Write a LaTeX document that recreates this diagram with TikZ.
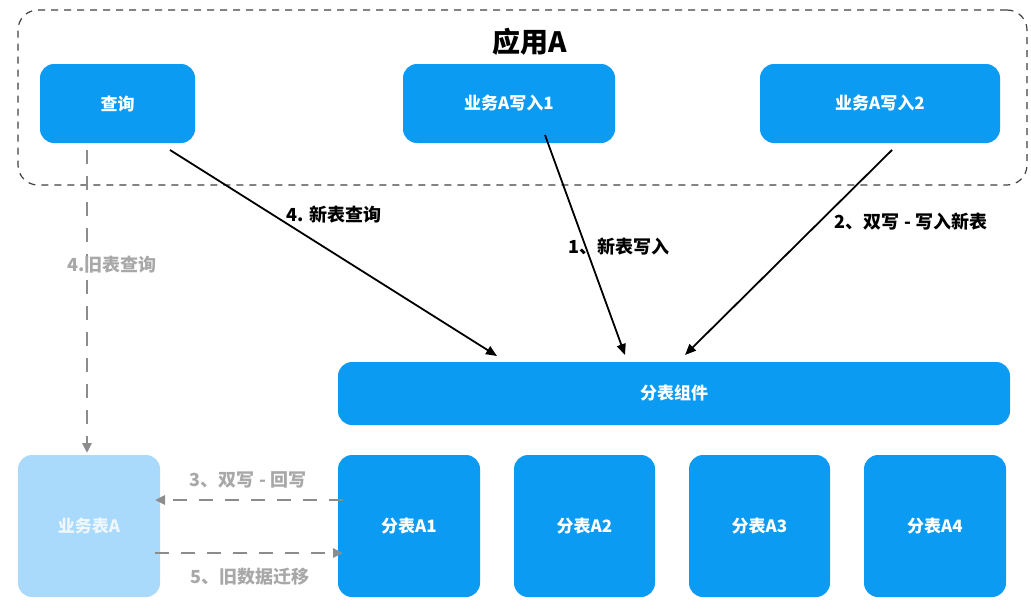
\documentclass[tikz,border=0pt]{standalone}
\usepackage{fontspec}
\setmainfont{Noto Sans CJK SC}
\usetikzlibrary{arrows.meta}
\definecolor{bblue}{HTML}{0C9BF3}
\definecolor{fblue}{HTML}{A9D9FB}
\definecolor{lgray}{HTML}{8C8C8C}
\definecolor{tgray}{HTML}{A8A8A8}
\tikzset{
  box/.style={draw=none, fill=bblue, rounded corners=14pt, text=white, font=\bfseries\fontsize{17}{19}\selectfont, inner sep=0pt},
  fadebox/.style={draw=none, fill=fblue, rounded corners=14pt, text=white!80!fblue, font=\bfseries\fontsize{17}{19}\selectfont, inner sep=0pt},
  solidarrow/.style={draw=black, line width=1.8pt, -{Triangle[length=11pt,width=9pt]}},
  grayarrow/.style={draw=lgray, line width=2.6pt, dash pattern=on 14pt off 12pt, -{Triangle[length=10pt,width=9pt]}},
  blabel/.style={font=\bfseries\fontsize{18}{20}\selectfont, text=black, inner sep=1pt},
  glabel/.style={font=\bfseries\fontsize{18}{20}\selectfont, text=tgray, inner sep=1pt},
}
\begin{document}
\begin{tikzpicture}[x=1pt,y=-1pt]
\useasboundingbox (0,0) rectangle (1031,613);
% container
\node[draw=black!75, line width=1.2pt, dash pattern=on 7pt off 6pt, rounded corners=20pt, minimum width=1009pt, minimum height=175pt, inner sep=0pt] (app) at (522.5,97.5) {};
\node[font=\bfseries\fontsize{28}{30}\selectfont] (title) at (530,42) {应用A};
% top nodes
\node[box, minimum width=155pt, minimum height=79pt] (q) at (117.5,103.5) {查询};
\node[box, minimum width=212pt, minimum height=79pt] (w1) at (509,103.5) {业务A写入1};
\node[box, minimum width=240pt, minimum height=79pt] (w2) at (880,103.5) {业务A写入2};
% component
\node[box, minimum width=672pt, minimum height=63pt] (comp) at (674,393.5) {分表组件};
% tables
\node[box, minimum width=142pt, minimum height=142pt] (t1) at (409,526) {分表A1};
\node[box, minimum width=141pt, minimum height=142pt] (t2) at (584.5,526) {分表A2};
\node[box, minimum width=141pt, minimum height=142pt] (t3) at (759.5,526) {分表A3};
\node[box, minimum width=142pt, minimum height=142pt] (t4) at (935,526) {分表A4};
\node[fadebox, minimum width=142pt, minimum height=142pt] (old) at (89,526) {业务表A};
% coordinates
\coordinate (qs) at (170,150);
\coordinate (qo) at (87,150);
\coordinate (w1s) at (545,135);
\coordinate (w2s) at (892,150);
\coordinate (c1) at (497,356);
\coordinate (c2) at (625,355);
\coordinate (c3) at (685,355);
\coordinate (oldtop) at (87,453);
\coordinate (t1a) at (343,500);
\coordinate (olda) at (155,500);
\coordinate (oldb) at (155,553);
\coordinate (t1b) at (343,553);
% arrows
\draw[solidarrow] (qs) -- (c1);
\draw[solidarrow] (w1s) -- (c2);
\draw[solidarrow] (w2s) -- (c3);
\draw[grayarrow] (qo) -- (oldtop);
\draw[grayarrow] (t1a) -- (olda);
\draw[grayarrow] (oldb) -- (t1b);
% labels
\node[blabel] (l4n) at (334,215) {4. 新表查询};
\node[blabel] (l1) at (619,247) {1、新表写入};
\node[blabel] (l2) at (911,222) {2、双写 - 写入新表};
\node[glabel] (l4o) at (112,265) {4.旧表查询};
\node[glabel] (l3) at (248,480) {3、双写 - 回写};
\node[glabel] (l5) at (250,577) {5、旧数据迁移};
\end{tikzpicture}
\end{document}
